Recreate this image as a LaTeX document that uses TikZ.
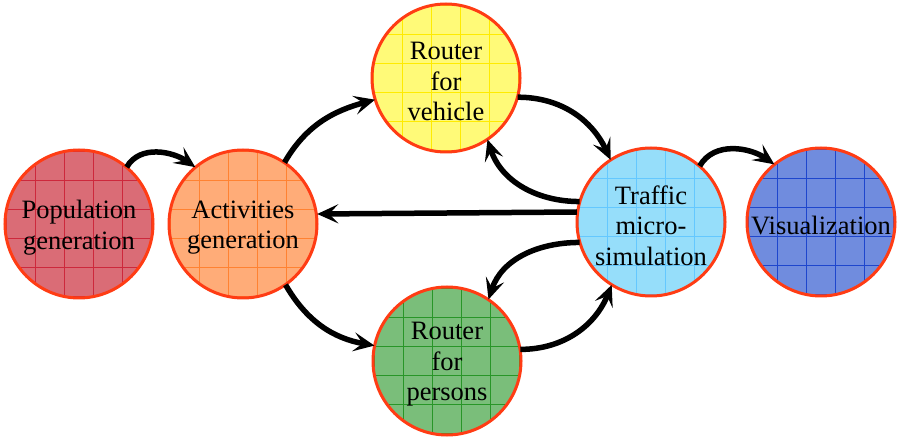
\documentclass[tikz,border=0pt]{standalone}
\usepackage{fontspec}
\setmainfont{Liberation Serif}
\usetikzlibrary{arrows.meta}

\definecolor{rim}{RGB}{255,60,20}
\definecolor{popfill}{RGB}{218,108,118}\definecolor{popgrid}{RGB}{205,40,60}
\definecolor{actfill}{RGB}{255,172,120}\definecolor{actgrid}{RGB}{255,130,50}
\definecolor{rvfill}{RGB}{255,250,120}\definecolor{rvgrid}{RGB}{255,235,0}
\definecolor{tsfill}{RGB}{150,222,250}\definecolor{tsgrid}{RGB}{100,200,255}
\definecolor{visfill}{RGB}{112,140,222}\definecolor{visgrid}{RGB}{30,70,205}
\definecolor{rpfill}{RGB}{122,190,122}\definecolor{rpgrid}{RGB}{40,150,40}

\tikzset{
  stage/.style={circle, minimum size=148pt, inner sep=0pt, align=center,
    font=\fontsize{26.5}{30.5}\selectfont},
  label shift/.style={yshift=-3.5pt},
  flow/.style={line width=5.5pt, -{Stealth[length=21pt,width=19pt,inset=9pt]}},
}

% filled, gridded circle with a red rim
\newcommand{\gridstage}[5]{% name, x, y, fill, grid
  \begin{scope}
    \clip (#2,#3) circle (74);
    \fill[#4] (#2,#3) circle (74);
    \foreach \k in {-3,...,2} {
      \draw[#5, line width=1pt] (#2+14.5+29*\k,#3-80) -- (#2+14.5+29*\k,#3+80);
      \draw[#5, line width=1pt] (#2-80,#3+14.5+29*\k) -- (#2+80,#3+14.5+29*\k);
    }
  \end{scope}
  \draw[rim, line width=3pt] (#2,#3) circle (74);
}

\begin{document}
\begin{tikzpicture}[x=1pt,y=-1pt]
  \useasboundingbox (0,0) rectangle (897,438);

  \gridstage{pop}{79}{224}{popfill}{popgrid}
  \gridstage{act}{243}{224}{actfill}{actgrid}
  \gridstage{rv}{446}{78}{rvfill}{rvgrid}
  \gridstage{ts}{651}{222}{tsfill}{tsgrid}
  \gridstage{vis}{821}{222}{visfill}{visgrid}
  \gridstage{rp}{447}{361}{rpfill}{rpgrid}

  \node[stage] (pop) at (79,224) {};
  \node[stage] (act) at (243,224) {};
  \node[stage] (rv)  at (446,78)  {};
  \node[stage] (ts)  at (651,222) {};
  \node[stage] (vis) at (821,222) {};
  \node[stage] (rp)  at (447,361) {};

  \node[stage, draw=none, label shift] (popt) at (pop) {Population\\generation};
  \node[stage, draw=none, label shift] (actt) at (act) {Activities\\generation};
  \node[stage, draw=none, label shift] (rvt)  at (rv)  {Router\\for\\vehicle};
  \node[stage, draw=none, label shift] (tst)  at (ts)  {Traffic\\micro-\\simulation};
  \node[stage, draw=none, label shift] (vist) at (vis) {Visualization};
  \node[stage, draw=none, label shift] (rpt)  at (rp)  {Router\\for\\persons};

  \draw[flow] (pop.50) to[out=60,in=145] (act.130);
  \draw[flow] (act.56) to[out=60,in=195] (rv.197);
  \draw[flow] (act.-55) to[out=-60,in=170] (rp.168);
  \draw[flow] (rv.-15) to[out=0,in=115] (ts.123);
  \draw[flow] (rp.9) to[out=0,in=-112] (ts.238);
  \draw[flow] (ts.164) to[out=180,in=-72] (rv.-56);
  \draw[flow] (ts.196) to[out=180,in=72] (rp.56);
  \draw[flow] ([yshift=10pt]ts.west) -- ([yshift=10pt]act.east);
  \draw[flow] (ts.49) to[out=60,in=145] (vis.129);
\end{tikzpicture}
\end{document}
